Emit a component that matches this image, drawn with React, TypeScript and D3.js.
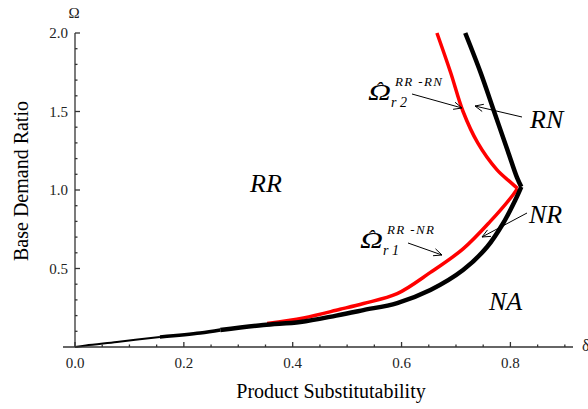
import React from "react";
import * as d3 from "d3";

const blackX = [0, 0.02, 0.077, 0.156, 0.23, 0.267, 0.346, 0.414, 0.48, 0.53, 0.592, 0.653, 0.713, 0.757, 0.787, 0.809, 0.82, 0.812, 0.795, 0.77, 0.745, 0.717];
const blackY = [0, 0.01, 0.032, 0.064, 0.089, 0.108, 0.14, 0.159, 0.2, 0.235, 0.28, 0.363, 0.49, 0.637, 0.79, 0.936, 1.02, 1.08, 1.25, 1.5, 1.75, 2.0];
const redX = [0.353, 0.42, 0.487, 0.53, 0.592, 0.653, 0.713, 0.763, 0.805, 0.813, 0.8, 0.775, 0.74, 0.713, 0.69, 0.665];
const redY = [0.15, 0.185, 0.24, 0.277, 0.34, 0.475, 0.625, 0.8, 0.97, 1.01, 1.05, 1.13, 1.3, 1.5, 1.75, 2.0];
const xTicks = [0, 0.2, 0.4, 0.6, 0.8];
const yTicks = [0.5, 1.0, 1.5, 2.0];

const W = 588, H = 409;
const x = d3.scaleLinear().domain([0, 0.915]).range([75, 573]);
const y = d3.scaleLinear().domain([0, 2]).range([347, 33]);
const FONT = "Liberation Serif, Times New Roman, Times, serif";

function Arrow({ x1, y1, x2, y2 }: { x1: number; y1: number; x2: number; y2: number }) {
  const a = Math.atan2(y2 - y1, x2 - x1);
  const L = 9, s = 0.42;
  const p1 = [x2 - L * Math.cos(a - s), y2 - L * Math.sin(a - s)];
  const p2 = [x2 - L * Math.cos(a + s), y2 - L * Math.sin(a + s)];
  return (
    <g stroke="#000" strokeWidth={1} fill="none">
      <line x1={x1} y1={y1} x2={x2} y2={y2} />
      <polyline points={`${p1[0]},${p1[1]} ${x2},${y2} ${p2[0]},${p2[1]}`} />
    </g>
  );
}

function OmegaHat({ ox, base, sup, sub }: { ox: number; base: number; sup: string; sub: string }) {
  return (
    <g style={{ fontFamily: FONT }} fontStyle="italic" fill="#000">
      <text x={ox} y={base} fontSize={23} textLength={23} lengthAdjust="spacingAndGlyphs">Ω</text>
      <text x={ox + 11} y={base - 3} fontSize={22} textAnchor="middle">ˆ</text>
      <text x={ox + 27} y={base - 14} fontSize={13} textLength={47} lengthAdjust="spacing">{sup}</text>
      <text x={ox + 23} y={base + 7} fontSize={14}>{sub}</text>
    </g>
  );
}

export default function App() {
  const pts = (xs: number[], ys: number[]) => xs.map((v, i) => [v, ys[i]] as [number, number]);
  const line = d3.line<[number, number]>().x(d => x(d[0])).y(d => y(d[1])).curve(d3.curveCatmullRom.alpha(0.5));
  const black = pts(blackX, blackY);
  const red = pts(redX, redY);
  const xMinor = d3.range(0, 0.91, 0.05);
  const yMinor = d3.range(0, 2.001, 0.1);

  return (
    <svg width={W} height={H} style={{ position: "absolute", left: 0, top: 0, background: "#fff" }}>
      <rect width={W} height={H} fill="#fff" />
      {/* curves */}
      <path d={line(red.slice(0, 10)) || ""} fill="none" stroke="#f00" strokeWidth={3.5} strokeLinejoin="round" />
      <path d={line(red.slice(9)) || ""} fill="none" stroke="#f00" strokeWidth={3.5} strokeLinejoin="round" />
      <path d={line(black.slice(0, 4)) || ""} fill="none" stroke="#000" strokeWidth={2} />
      <path d={line(black.slice(3, 6)) || ""} fill="none" stroke="#000" strokeWidth={3.5} />
      <path d={line(black.slice(5, 17)) || ""} fill="none" stroke="#000" strokeWidth={4.5} strokeLinejoin="round" />
      <path d={line(black.slice(16)) || ""} fill="none" stroke="#000" strokeWidth={4.5} strokeLinejoin="round" />

      {/* axes */}
      <g stroke="#333" strokeWidth={1.3}>
        <line x1={63} y1={y(0)} x2={x(0.915)} y2={y(0)} />
        <line x1={x(0)} y1={y(0)} x2={x(0)} y2={y(2)} />
        {xMinor.map((t, i) => {
          const major = xTicks.some(m => Math.abs(m - t) < 1e-6);
          return <line key={"xt" + i} x1={x(t)} x2={x(t)} y1={y(0)} y2={y(0) - (major ? 5 : 2.5)} />;
        })}
        {yMinor.map((t, i) => {
          const major = yTicks.some(m => Math.abs(m - t) < 1e-6);
          return <line key={"yt" + i} x1={x(0)} x2={x(0) + (major ? 5 : 2.5)} y1={y(t)} y2={y(t)} />;
        })}
      </g>
      <g style={{ fontFamily: FONT }} fontSize={15} fill="#222">
        {xTicks.map(t => (
          <text key={"xl" + t} x={x(t)} y={368} textAnchor="middle">{t.toFixed(1)}</text>
        ))}
        {yTicks.map(t => (
          <text key={"yl" + t} x={68} y={y(t) + 5} textAnchor="end">{t.toFixed(1)}</text>
        ))}
        <text x={74} y={18} textAnchor="middle" fontSize={15}>Ω</text>
        <text x={582} y={351} fontSize={16}>δ</text>
      </g>
      <g style={{ fontFamily: FONT }} fontSize={20} fill="#000">
        <text x={331} y={398} textAnchor="middle">Product Substitutability</text>
        <text transform={`translate(28,181) rotate(-90)`} textAnchor="middle">Base Demand Ratio</text>
      </g>

      {/* region labels */}
      <g style={{ fontFamily: FONT }} fontStyle="italic" fontSize={26} fill="#000">
        <text x={250} y={192}>RR</text>
        <text x={530} y={128}>RN</text>
        <text x={529} y={223}>NR</text>
        <text x={489} y={310}>NA</text>
      </g>

      <OmegaHat ox={368} base={100} sup="RR -RN" sub="r 2" />
      <OmegaHat ox={360} base={248} sup="RR -NR" sub="r 1" />

      <Arrow x1={412} y1={94} x2={462} y2={108} />
      <Arrow x1={522} y1={117} x2={475} y2={106} />
      <Arrow x1={408} y1={243} x2={442} y2={255} />
      <Arrow x1={527} y1={213} x2={482} y2={237} />
    </svg>
  );
}
